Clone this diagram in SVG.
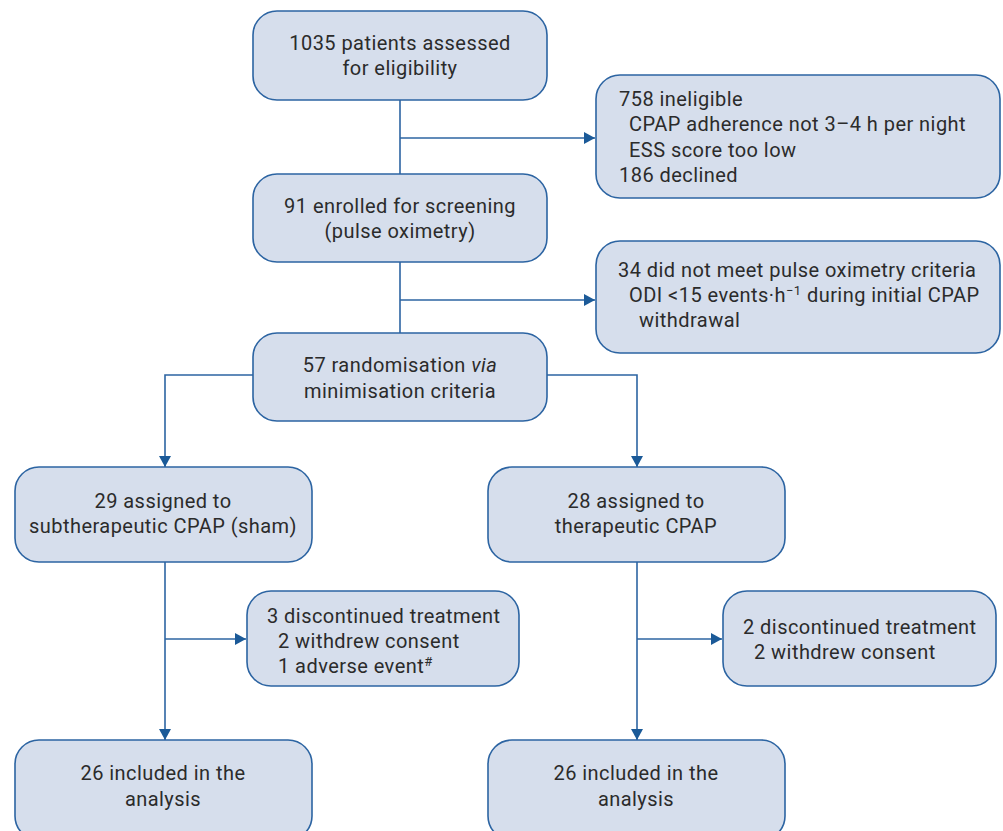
<svg xmlns="http://www.w3.org/2000/svg" width="1003" height="831" viewBox="0 0 1003 831">
<defs>
<style>
.box{fill:#d6deec;stroke:#2c64a2;stroke-width:1.6}
.t{font-family:Roboto,"Liberation Sans",sans-serif;font-size:20px;letter-spacing:0.45px;fill:#2b2b2b}
.c{text-anchor:middle}
.ln{fill:none;stroke:#2c64a2;stroke-width:1.6}
.sup{font-size:13px}
</style>
<marker id="ah" markerWidth="12" markerHeight="12" refX="11" refY="6" orient="auto" markerUnits="userSpaceOnUse">
<path d="M0,0 L11,6 L0,12 Z" fill="#1b5a98"/>
</marker>
</defs>
<rect width="1003" height="831" fill="#ffffff"/>
<g id="connectors">
<path class="ln" d="M400,100 V174"/>
<path class="ln" d="M400,138 H595" marker-end="url(#ah)"/>
<path class="ln" d="M400,262 V333"/>
<path class="ln" d="M400,300 H595" marker-end="url(#ah)"/>
<path class="ln" d="M253,375 H165 V467" marker-end="url(#ah)"/>
<path class="ln" d="M547,375 H637 V467" marker-end="url(#ah)"/>
<path class="ln" d="M165,562 V740" marker-end="url(#ah)"/>
<path class="ln" d="M165,639 H246" marker-end="url(#ah)"/>
<path class="ln" d="M637,562 V740" marker-end="url(#ah)"/>
<path class="ln" d="M637,639 H722" marker-end="url(#ah)"/>
</g>
<g id="n1">
<rect class="box" x="253" y="11" width="294" height="89" rx="24"/>
<text class="t c" x="400" y="50">1035 patients assessed</text>
<text class="t c" x="400" y="75">for eligibility</text>
</g>
<g id="n_ineligible">
<rect class="box" x="596" y="75" width="404" height="123" rx="24"/>
<text class="t" x="619" y="106">758 ineligible</text>
<text class="t" x="629" y="131">CPAP adherence not 3–4 h per night</text>
<text class="t" x="629" y="157">ESS score too low</text>
<text class="t" x="619" y="182">186 declined</text>
</g>
<g id="n2">
<rect class="box" x="253" y="174" width="294" height="88" rx="24"/>
<text class="t c" x="400" y="213">91 enrolled for screening</text>
<text class="t c" x="400" y="238">(pulse oximetry)</text>
</g>
<g id="n_oximetry">
<rect class="box" x="596" y="241" width="404" height="112" rx="24"/>
<text class="t" x="618" y="277">34 did not meet pulse oximetry criteria</text>
<text class="t" x="629" y="302">ODI &lt;15 events·h<tspan class="sup" dy="-7">−1</tspan><tspan dy="7"> during initial CPAP</tspan></text>
<text class="t" x="639" y="327">withdrawal</text>
</g>
<g id="n3">
<rect class="box" x="253" y="333" width="294" height="88" rx="24"/>
<text class="t c" x="400" y="372">57 randomisation <tspan font-style="italic">via</tspan></text>
<text class="t c" x="400" y="398">minimisation criteria</text>
</g>
<g id="n_sham">
<rect class="box" x="15" y="467" width="297" height="95" rx="24"/>
<text class="t c" x="163" y="508">29 assigned to</text>
<text class="t c" x="163" y="533">subtherapeutic CPAP (sham)</text>
</g>
<g id="n_cpap">
<rect class="box" x="488" y="467" width="297" height="95" rx="24"/>
<text class="t c" x="636" y="508">28 assigned to</text>
<text class="t c" x="636" y="533">therapeutic CPAP</text>
</g>
<g id="n_disc_sham">
<rect class="box" x="247" y="591" width="272" height="95" rx="24"/>
<text class="t" x="267" y="623">3 discontinued treatment</text>
<text class="t" x="278" y="648">2 withdrew consent</text>
<text class="t" x="278" y="673">1 adverse event<tspan class="sup" dy="-7">#</tspan></text>
</g>
<g id="n_disc_cpap">
<rect class="box" x="723" y="591" width="273" height="95" rx="24"/>
<text class="t" x="743" y="634">2 discontinued treatment</text>
<text class="t" x="754" y="659">2 withdrew consent</text>
</g>
<g id="n_incl_sham">
<rect class="box" x="15" y="740" width="297" height="100" rx="24"/>
<text class="t c" x="163" y="780">26 included in the</text>
<text class="t c" x="163" y="806">analysis</text>
</g>
<g id="n_incl_cpap">
<rect class="box" x="488" y="740" width="297" height="100" rx="24"/>
<text class="t c" x="636" y="780">26 included in the</text>
<text class="t c" x="636" y="806">analysis</text>
</g>
</svg>
